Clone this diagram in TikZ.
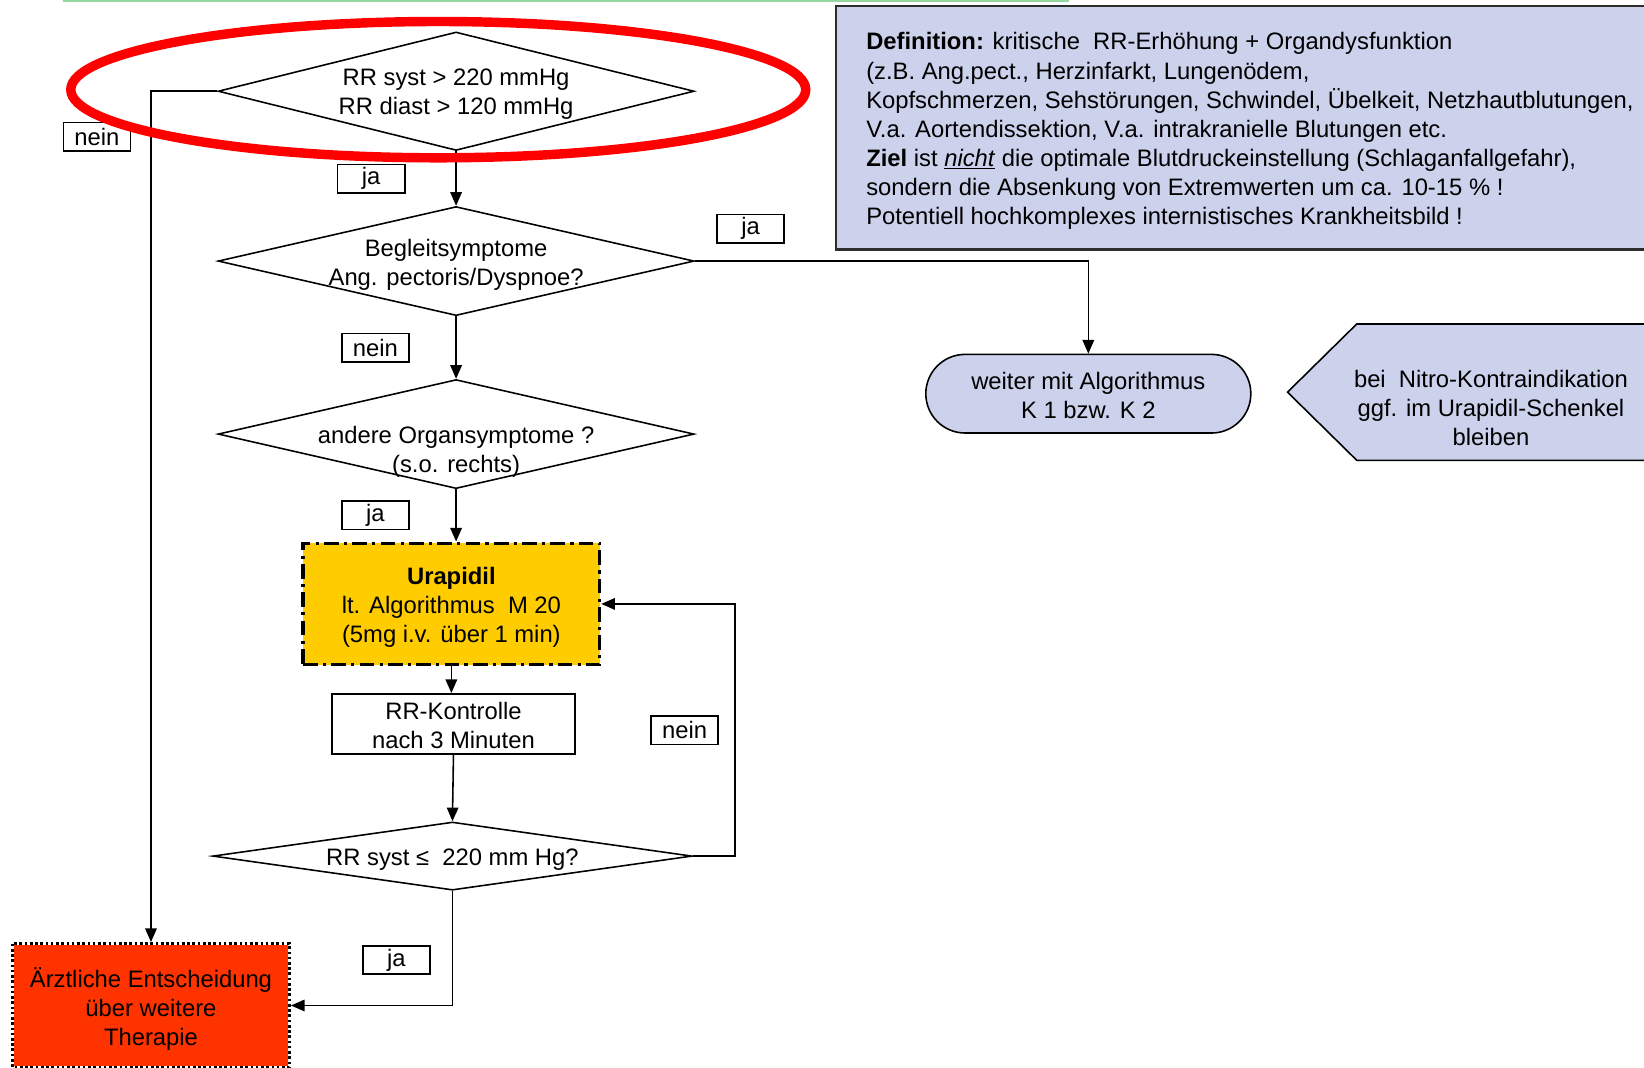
\documentclass[tikz,border=0pt]{standalone}
\usepackage{fontspec}
\setmainfont{Liberation Sans}
\usetikzlibrary{shapes.geometric,shapes.misc,arrows.meta,calc}
\definecolor{lav}{RGB}{204,209,236}
\definecolor{urapyel}{RGB}{255,204,0}
\definecolor{alarm}{RGB}{255,51,0}
\definecolor{markred}{RGB}{255,0,0}
\definecolor{topgreen}{RGB}{150,215,160}
\definecolor{frame}{RGB}{45,45,45}
\begin{document}
\begin{tikzpicture}[x=1pt,y=-1pt,
  every node/.style={font=\fontsize{22.7}{27.7}\selectfont},
  txt/.style={align=center,inner sep=0pt},
  decide/.style={diamond,draw,line width=1.5pt,inner sep=0pt},
  tag/.style={draw,line width=1.5pt,minimum width=64pt,minimum height=27pt,inner sep=0pt},
  arr/.style={line width=1.5pt,-{Triangle[length=13pt,width=11pt]}},
]
\useasboundingbox (0,0) rectangle (1568,1018);
\clip (0,0) rectangle (1568,1018);

% thin rule along the top edge
\draw[topgreen, line width=2pt] (60,1) -- (1020,1);

% definition panel
\node[draw=frame, fill=lav, line width=2pt, minimum width=790pt, minimum height=232pt,
      anchor=north west, inner sep=0pt] (defbox) at (796,5) {};
\node[anchor=north west, align=left, inner sep=0pt] (deftext) at (826,31)
  {\textbf{Definition:} kritische\ \ RR-Erhöhung + Organdysfunktion\\
   (z.B. Ang.pect., Herzinfarkt, Lungenödem,\\
   Kopfschmerzen, Sehstörungen, Schwindel, Übelkeit, Netzhautblutungen,\\
   V.a. Aortendissektion, V.a. intrakranielle Blutungen etc.\\
   \textbf{Ziel} ist \underline{\textit{nicht}} die optimale Blutdruckeinstellung (Schlaganfallgefahr),\\
   sondern die Absenkung von Extremwerten um ca. 10-15 \% !\\
   Potentiell hochkomplexes internistisches Krankheitsbild !};

% decisions
\node[decide, minimum width=454pt, minimum height=113pt] (q1) at (435,87) {};
\node[txt] (q1t) at ($(q1.center)+(0,3)$) {RR syst > 220 mmHg\\RR diast > 120 mmHg};
\node[decide, minimum width=454pt, minimum height=104pt] (q2) at (435,249) {};
\node[txt] (q2t) at ($(q2.center)+(0,3.5)$) {Begleitsymptome\\Ang. pectoris/Dyspnoe?};
\node[decide, minimum width=454pt, minimum height=104pt] (q3) at (435,414) {};
\node[txt] (q3t) at ($(q3.center)+(0,16.5)$) {andere Organsymptome ?\\(s.o. rechts)};
\node[decide, minimum width=457pt, minimum height=65pt] (q4) at (431.5,816.5) {};
\node[txt] (q4t) at ($(q4.center)+(0,3)$) {RR syst ≤\ \ 220 mm Hg?};

% actions
\node[draw, fill=urapyel, line width=3pt, dash pattern=on 14pt off 5pt on 3pt off 5pt,
      minimum width=283pt, minimum height=116pt, inner sep=0pt] (urap) at (430.5,576) {};
\node[txt] (urapt) at ($(urap.center)+(0,3.5)$)
  {\textbf{Urapidil}\\lt. Algorithmus\ \ M 20\\(5mg i.v. über 1 min)};
\node[draw, line width=2pt, minimum width=231pt, minimum height=57pt, inner sep=0pt]
  (rrk) at (432.5,690.5) {};
\node[txt] (rrkt) at ($(rrk.center)+(0,1.5)$) {RR-Kontrolle\\nach 3 Minuten};
\node[draw=white, fill=alarm, line width=3pt,
      minimum width=264pt, minimum height=118pt, inner sep=0pt] (aerzt) at (144,959) {};
\draw[line width=3pt, dash pattern=on 2.5pt off 2.5pt]
  ($(aerzt.north west)+(1.5,1.5)$) rectangle ($(aerzt.south east)+(-1.5,-1.5)$);
\node[txt] (aerztt) at ($(aerzt.center)+(0,3)$) {Ärztliche Entscheidung\\über weitere\\Therapie};
\node[rounded rectangle, draw, fill=lav, line width=1.5pt, minimum width=310pt, minimum height=75pt,
      inner sep=0pt] (weiter) at (1038,375.5) {};
\node[txt] (weitert) at ($(weiter.center)+(0,1.5)$) {weiter mit Algorithmus\\K 1 bzw. K 2};

% side note
\draw[fill=lav, line width=1.5pt] (1228,374) -- (1294,309) -- (1590,309) -- (1590,439) -- (1294,439) -- cycle;
\node[txt] (nitro) at (1422,389) {bei\ \ Nitro-Kontraindikation\\ggf. im Urapidil-Schenkel\\bleiben};

% connectors
\draw[arr] (q1.west) -| (aerzt.north);
\draw[arr] (q1.south) -- (q2.north);
\draw[arr] (q2.east) -| (weiter.north);
\draw[arr] (q2.south) -- (q3.north);
\draw[arr] (q3.south) -- (q3.south |- urap.north);
\draw[arr] (urap.south) -- (urap.south |- rrk.north);
\draw[arr] (rrk.south) -- (q4.north);
\draw[arr] (q4.east) -- ++(40,0) |- (urap.east);
\draw[arr] (q4.south) |- (aerzt.east);

% branch tags
\node[tag] (n1) at (92.5,130.5) {nein};
\node[tag] (j1) at (354,170.5) {ja};
\node[tag] (j2) at (716,218) {ja};
\node[tag] (n2) at (358,331.5) {nein};
\node[tag] (j3) at (358,491.5) {ja};
\node[tag] (n3) at (653,696.5) {nein};
\node[tag] (j4) at (378,915.5) {ja};

% highlight ring around the entry question
\draw[markred, line width=9pt] (418,85.5) ellipse [x radius=350.5, y radius=65];
\end{tikzpicture}
\end{document}
